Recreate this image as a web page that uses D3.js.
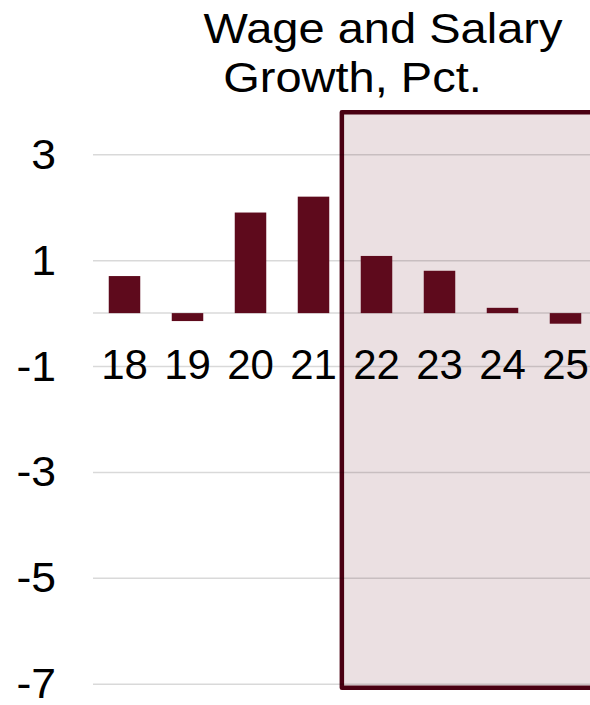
<!DOCTYPE html>
<html>
<head>
<meta charset="utf-8">
<script src="https://cdn.jsdelivr.net/npm/d3@7"></script>
<style>
  body { margin: 0; background: #fff; }
  svg { display: block; font-family: "Liberation Sans", Arial, sans-serif; }
</style>
</head>
<body>
<div id="chart"></div>
<script>
// wage and salary growth, pct. per year
var years = ["18", "19", "20", "21", "22", "23", "24", "25"],
    growth = [0.7, -0.15, 1.9, 2.2, 1.08, 0.8, 0.1, -0.2],
    yTicks = [3, 1, -1, -3, -5, -7],
    shaded = ["22", "25"],
    titleLines = ["Wage and Salary", "Growth, Pct."];

var width = 590,
    height = 705,

    svg = d3.select("#chart")
        .append("svg")
        .attr("width", width)
        .attr("height", height),

    x = d3.scaleBand()
        .domain(years)
        .range([93, 597])
        .paddingInner(0.5)
        .paddingOuter(0.25),

    y = d3.scaleLinear()
        .domain([-7, 3])
        .range([683.7, 154.3]);

// shaded forecast box, drawn first so the grid shows through
var boxLeft = x(shaded[0]) - x.step() * 0.3,
    boxTop = y(3) - 42,
    boxBottom = y(-7) + 4;

svg.append("rect")
    .attr("x", boxLeft)
    .attr("y", boxTop)
    .attr("width", width + 20 - boxLeft)
    .attr("height", boxBottom - boxTop)
    .attr("fill", "#ebe0e2")
    .attr("stroke", "#4a0012")
    .attr("stroke-width", 4.5)
    .attr("stroke-linejoin", "round");

// y axis with gridlines
var yAxis = svg.append("g")
    .attr("transform", "translate(93,0)")
    .call(d3.axisLeft(y)
        .tickValues(yTicks)
        .tickFormat(d3.format("d"))
        .tickSize(-(597 - 93))
        .tickPadding(36));

yAxis.select(".domain").remove();
yAxis.selectAll(".tick line")
    .attr("stroke", "rgba(0,0,0,0.15)")
    .attr("stroke-width", 1.5);
yAxis.selectAll(".tick text")
    .attr("x", null)
    .attr("dy", null)
    .attr("transform", "translate(-37,14) scale(1.06,1)")
    .attr("font-size", 42)
    .attr("fill", "#000")
    .text(function(d) { return d < 0 ? "-" + Math.abs(d) : d; });

// zero line
svg.append("line")
    .attr("x1", 93)
    .attr("x2", 597)
    .attr("y1", y(0))
    .attr("y2", y(0))
    .attr("stroke", "rgba(0,0,0,0.15)")
    .attr("stroke-width", 1.5);

// bars
svg.selectAll("rect.bar")
    .data(growth)
    .enter()
    .append("rect")
    .attr("class", "bar")
    .attr("x", function(d, i) { return x(years[i]); })
    .attr("width", x.bandwidth())
    .attr("y", function(d) { return y(Math.max(0, d)); })
    .attr("height", function(d) { return Math.abs(y(d) - y(0)); })
    .attr("fill", "#5e0a1c");

// category labels
var xAxis = svg.append("g")
    .attr("transform", "translate(0," + y(0) + ")")
    .call(d3.axisBottom(x).tickSize(0));

xAxis.select(".domain").remove();
xAxis.selectAll(".tick text")
    .attr("y", 66)
    .attr("dy", null)
    .attr("font-size", 42)
    .attr("fill", "#000");

// title, two lines centred a little apart as in the original box
var titleX = [383, 352.5];

svg.selectAll("text.title")
    .data(titleLines)
    .enter()
    .append("text")
    .attr("class", "title")
    .attr("text-anchor", "middle")
    .attr("font-size", 42)
    .attr("transform", function(d, i) {
        return "translate(" + titleX[i] + "," + (43 + i * 49) + ") scale(1.12,1)";
    })
    .text(function(d) { return d; });
</script>
</body>
</html>
